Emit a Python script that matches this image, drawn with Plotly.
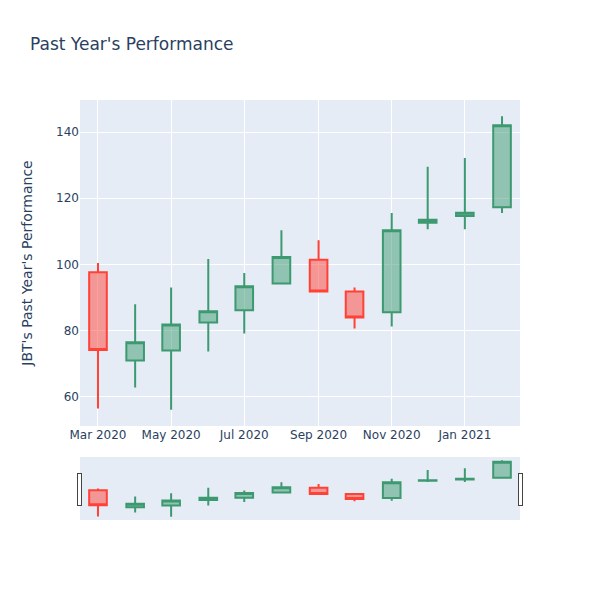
import plotly.graph_objects as go

dates = ["2020-03-01", "2020-04-01", "2020-05-01", "2020-06-01", "2020-07-01", "2020-08-01",
         "2020-09-01", "2020-10-01", "2020-11-01", "2020-12-01", "2021-01-01", "2021-02-01"]
open_ = [97.6, 70.9, 73.9, 82.4, 86.1, 94.2, 101.4, 91.8, 85.5, 112.6, 114.6, 117.3]
high = [100.4, 87.9, 93.0, 101.6, 97.4, 110.3, 107.3, 93.0, 115.5, 129.5, 132.2, 144.8]
low = [56.4, 62.7, 56.0, 73.6, 79.1, 94.0, 91.6, 80.6, 81.2, 110.6, 110.6, 115.5]
close = [74.1, 76.4, 81.8, 85.8, 93.4, 102.2, 91.8, 83.9, 110.3, 113.5, 115.6, 142.1]

fig = go.Figure(go.Candlestick(x=dates, open=open_, high=high, low=low, close=close))
fig.update_layout(
    title=dict(text="Past Year's Performance", x=22 / 592, xanchor="left",
               y=1 - 36 / 592, yanchor="middle"),
    yaxis_title=dict(text="JBT's Past Year's Performance", standoff=20),
    width=592, height=592,
    margin=dict(l=72, r=80, t=92, b=80),
    font=dict(family="DejaVu Sans"),
    template="plotly",
)
fig.write_html("out.html")
